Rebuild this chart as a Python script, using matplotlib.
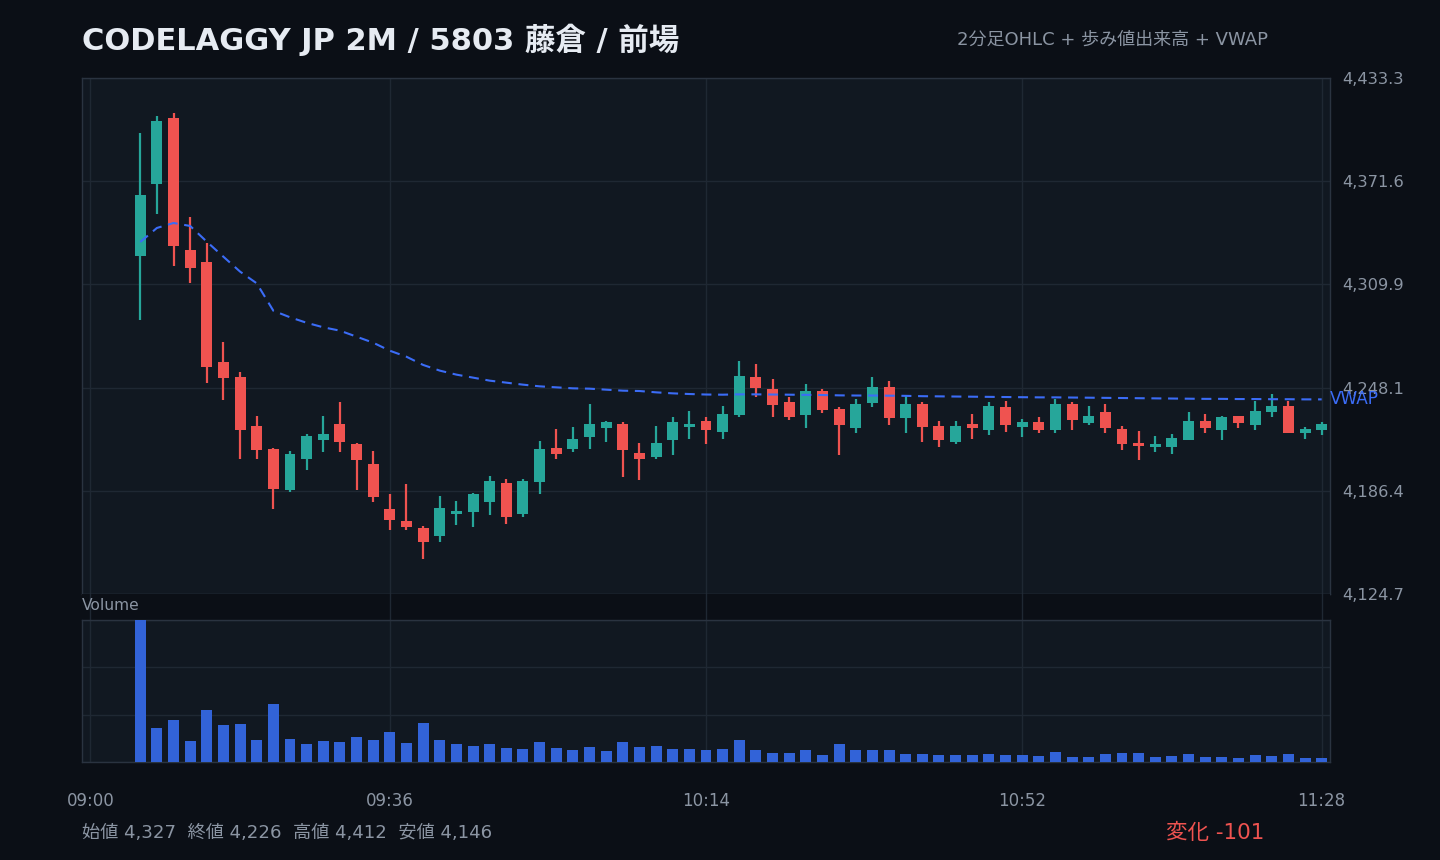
import numpy as np
import matplotlib
matplotlib.use("Agg")
import matplotlib.pyplot as plt
from matplotlib.patches import Rectangle
from matplotlib.ticker import FuncFormatter

plt.rcParams['font.family'] = ['DejaVu Sans', 'Noto Sans CJK JP']

# ---------------- data ----------------
opens = [4327.0, 4370.1, 4409.4, 4330.4, 4323.3, 4263.5, 4254.5, 4225.2, 4211.4, 4186.9,
         4205.6, 4217.0, 4226.4, 4214.4, 4202.4, 4175.5, 4168.4, 4164.2, 4159.6, 4172.7,
         4174.0, 4179.9, 4191.1, 4172.7, 4191.9, 4212.0, 4211.6, 4218.8, 4224.2, 4226.4,
         4209.0, 4206.8, 4217.0, 4224.6, 4228.2, 4221.8, 4231.9, 4254.5, 4247.3, 4239.5,
         4231.9, 4246.1, 4235.4, 4224.2, 4239.1, 4248.5, 4230.1, 4238.3, 4225.2, 4215.8,
         4226.4, 4223.0, 4236.5, 4224.8, 4227.6, 4223.0, 4238.3, 4227.2, 4233.6, 4223.4,
         4215.2, 4212.8, 4212.8, 4217.0, 4228.2, 4223.0, 4231.2, 4226.0, 4233.6, 4237.1,
         4221.2, 4223.0]
highs = [4400.4, 4410.6, 4412.4, 4350.2, 4334.4, 4275.4, 4257.5, 4231.2, 4212.0, 4210.2,
         4220.4, 4231.2, 4239.5, 4214.8, 4210.2, 4184.5, 4190.5, 4165.4, 4183.3, 4180.3,
         4185.1, 4195.3, 4193.5, 4193.5, 4216.2, 4223.4, 4224.6, 4238.3, 4228.2, 4227.6,
         4215.0, 4225.2, 4230.6, 4234.2, 4230.6, 4237.1, 4264.1, 4262.3, 4253.3, 4242.5,
         4250.3, 4247.3, 4236.5, 4241.3, 4254.5, 4252.1, 4243.7, 4239.5, 4228.2, 4228.2,
         4232.3, 4239.5, 4240.1, 4229.4, 4230.6, 4241.3, 4239.5, 4237.1, 4238.3, 4225.2,
         4222.2, 4219.2, 4220.4, 4233.6, 4232.4, 4231.2, 4231.2, 4240.1, 4244.3, 4240.1,
         4224.6, 4227.6]
lows = [4288.6, 4352.1, 4321.0, 4310.9, 4251.1, 4240.9, 4205.6, 4205.6, 4175.7, 4185.9,
        4199.1, 4209.8, 4209.8, 4187.1, 4179.9, 4163.2, 4163.2, 4145.8, 4156.0, 4166.2,
        4165.0, 4172.2, 4166.8, 4171.0, 4184.7, 4205.6, 4209.8, 4211.6, 4215.8, 4194.9,
        4193.1, 4205.6, 4208.0, 4217.6, 4214.6, 4217.6, 4230.7, 4242.7, 4230.7, 4229.0,
        4224.2, 4233.1, 4208.0, 4221.2, 4236.7, 4226.0, 4221.2, 4215.8, 4212.8, 4214.6,
        4217.6, 4220.0, 4221.8, 4218.8, 4221.2, 4221.2, 4223.0, 4226.0, 4221.2, 4211.0,
        4205.0, 4209.8, 4208.6, 4217.0, 4221.2, 4217.0, 4224.2, 4223.0, 4230.6, 4221.2,
        4217.6, 4220.0]
closes = [4363.3, 4407.6, 4333.0, 4319.9, 4260.6, 4254.1, 4223.0, 4211.0, 4187.7, 4208.4,
          4219.2, 4220.4, 4215.8, 4205.0, 4182.9, 4169.1, 4165.0, 4156.0, 4176.1, 4174.3,
          4184.5, 4192.3, 4171.0, 4192.3, 4211.4, 4208.6, 4217.4, 4226.4, 4227.6, 4211.0,
          4205.6, 4215.0, 4227.6, 4226.4, 4223.0, 4232.3, 4255.1, 4248.1, 4237.9, 4230.7,
          4246.1, 4234.9, 4226.0, 4238.3, 4248.5, 4230.1, 4238.3, 4224.8, 4217.0, 4225.2,
          4224.2, 4237.1, 4226.0, 4227.6, 4223.0, 4238.3, 4228.9, 4231.2, 4224.2, 4214.6,
          4213.4, 4214.6, 4218.0, 4228.2, 4224.2, 4230.6, 4227.2, 4234.1, 4237.1, 4221.2,
          4223.4, 4226.4]
volumes = [142.3, 34.3, 42.3, 21.3, 52.3, 37.3, 38.3, 22.3, 58.3, 23.3,
           18.3, 21.3, 20.3, 25.3, 22.3, 30.3, 19.3, 39.3, 22.3, 18.3,
           16.3, 18.3, 14.3, 13.3, 20.3, 14.3, 12.3, 15.3, 11.3, 20.3,
           15.3, 16.3, 13.3, 13.3, 12.3, 13.3, 22.3, 12.3, 9.3, 9.3,
           12.3, 7.3, 18.3, 12.3, 12.3, 12.3, 8.3, 8.3, 7.3, 7.3,
           7.3, 8.3, 7.3, 7.3, 6.3, 10.3, 5.3, 5.3, 8.3, 9.3,
           9.3, 5.3, 6.3, 8.3, 5.3, 5.3, 4.3, 7.3, 6.3, 8.3,
           4.3, 4.3]
vwap = [4335.2, 4343.6, 4346.6, 4344.8, 4335.4, 4326.4, 4317.5, 4310.5, 4294.1, 4290.2,
        4286.9, 4284.2, 4282.2, 4278.6, 4275.0, 4270.2, 4266.6, 4261.7, 4258.3, 4255.9,
        4254.1, 4252.3, 4251.1, 4249.9, 4248.9, 4248.3, 4247.7, 4247.5, 4246.9, 4246.3,
        4246.1, 4245.3, 4244.7, 4244.3, 4244.0, 4243.9, 4244.1, 4244.1, 4244.0, 4243.9,
        4243.8, 4243.7, 4243.5, 4243.4, 4243.4, 4243.3, 4243.2, 4243.0, 4242.9, 4242.8,
        4242.7, 4242.6, 4242.5, 4242.4, 4242.3, 4242.3, 4242.2, 4242.1, 4242.0, 4241.9,
        4241.8, 4241.7, 4241.6, 4241.5, 4241.4, 4241.4, 4241.3, 4241.3, 4241.2, 4241.2,
        4241.1, 4241.1]
first_bar_minute = 6          # 09:06
bar_minutes = 2
tick_minutes = [0, 36, 74, 112, 148]
tick_labels = ["09:00", "09:36", "10:14", "10:52", "11:28"]
price_ticks = [4124.7, 4186.4, 4248.1, 4309.9, 4371.6, 4433.3]

title = "CODELAGGY JP 2M / 5803 藤倉 / 前場"
subtitle = "2分足OHLC + 歩み値出来高 + VWAP"
summary = "始値 4,327  終値 4,226  高値 4,412  安値 4,146"
change_text = "変化 -101"

# ---------------- style ----------------
FIG_BG = "#0b0f16"
AX_BG = "#111821"
GRID = "#1f2833"
SPINE = "#2a3340"
TXT = "#8b95a3"
TITLE_C = "#e6ebf2"
UP = "#26a69a"
DOWN = "#ef5350"
VOL_C = "#3263d8"
VWAP_C = "#3b6cf6"

W, H = 1440, 860
fig = plt.figure(figsize=(W / 100, H / 100), dpi=100, facecolor=FIG_BG)

def rect(l, t, r, b):
    return [l / W, 1 - b / H, (r - l) / W, (b - t) / H]

ax = fig.add_axes(rect(82, 78, 1330, 594), facecolor=AX_BG)
ax_gap = fig.add_axes(rect(82, 594, 1330, 620), facecolor=FIG_BG, sharex=ax)
axv = fig.add_axes(rect(82, 620, 1330, 762), facecolor=AX_BG, sharex=ax)

x = np.array([first_bar_minute + bar_minutes * i for i in range(len(opens))], dtype=float)
bw = 1.32

for i in range(len(opens)):
    o, h, l, c = opens[i], highs[i], lows[i], closes[i]
    col = UP if c >= o else DOWN
    ax.plot([x[i], x[i]], [l, h], color=col, lw=1.6, solid_capstyle='butt', zorder=3)
    lo, hi = min(o, c), max(o, c)
    ax.add_patch(Rectangle((x[i] - bw / 2, lo), bw, max(hi - lo, 0.6),
                           facecolor=col, edgecolor='none', zorder=4))

ax.plot(x, vwap, color=VWAP_C, lw=1.5, linestyle=(0, (4.8, 3.2)), zorder=5)
ax.text(1.0, vwap[-1], "VWAP", transform=ax.get_yaxis_transform(), color=VWAP_C,
        fontsize=12.2, va='center', ha='left', zorder=6, clip_on=False)

ax.set_xlim(-1, 149)
ax.set_ylim(price_ticks[0], price_ticks[-1])
ax.set_yticks(price_ticks)
ax.yaxis.set_major_formatter(FuncFormatter(lambda v, p: f"{v:,.1f}"))
ax.yaxis.tick_right()
ax.tick_params(axis='y', length=0, pad=9, labelsize=11.7, labelcolor=TXT)
ax.tick_params(axis='x', length=0, labelbottom=False)
ax.set_xticks(tick_minutes)
ax.grid(True, color=GRID, lw=1.0, zorder=0)
ax.set_axisbelow(True)
for s in ax.spines.values():
    s.set_color(SPINE)
    s.set_linewidth(1.0)

# gap strip
ax_gap.set_yticks([])
ax_gap.tick_params(axis='x', length=0, labelbottom=False)
ax_gap.grid(True, axis='x', color=GRID, lw=1.0)
for s in ax_gap.spines.values():
    s.set_visible(False)

# volume
vmax = max(volumes)
axv.bar(x, volumes, width=bw, color=VOL_C, zorder=3)
axv.set_ylim(0, vmax)
axv.set_yticks(np.linspace(0, vmax, 4))
axv.tick_params(axis='y', length=0, labelleft=False, labelright=False)
axv.set_xticks(tick_minutes)
axv.set_xticklabels(tick_labels)
axv.tick_params(axis='x', length=0, pad=21.5, labelsize=12, labelcolor=TXT)
axv.grid(True, color=GRID, lw=1.0, zorder=0)
axv.set_axisbelow(True)
for s in axv.spines.values():
    s.set_color(SPINE)
    s.set_linewidth(1.0)

fig.text(82 / W, 1 - 606 / H, "Volume", color=TXT, fontsize=11.2, va='center', ha='left')

fig.text(82 / W, 1 - 40 / H, title, color=TITLE_C, fontsize=22, fontweight='bold',
         va='center', ha='left')
fig.text(1268 / W, 1 - 40 / H, subtitle, color=TXT, fontsize=13, va='center', ha='right')
fig.text(82 / W, 1 - 833 / H, summary, color=TXT, fontsize=13.1, va='center', ha='left')
fig.text(1264 / W, 1 - 833 / H, change_text, color=DOWN, fontsize=15.5, va='center', ha='right')

fig.savefig("out.png", dpi=100, facecolor=FIG_BG)
